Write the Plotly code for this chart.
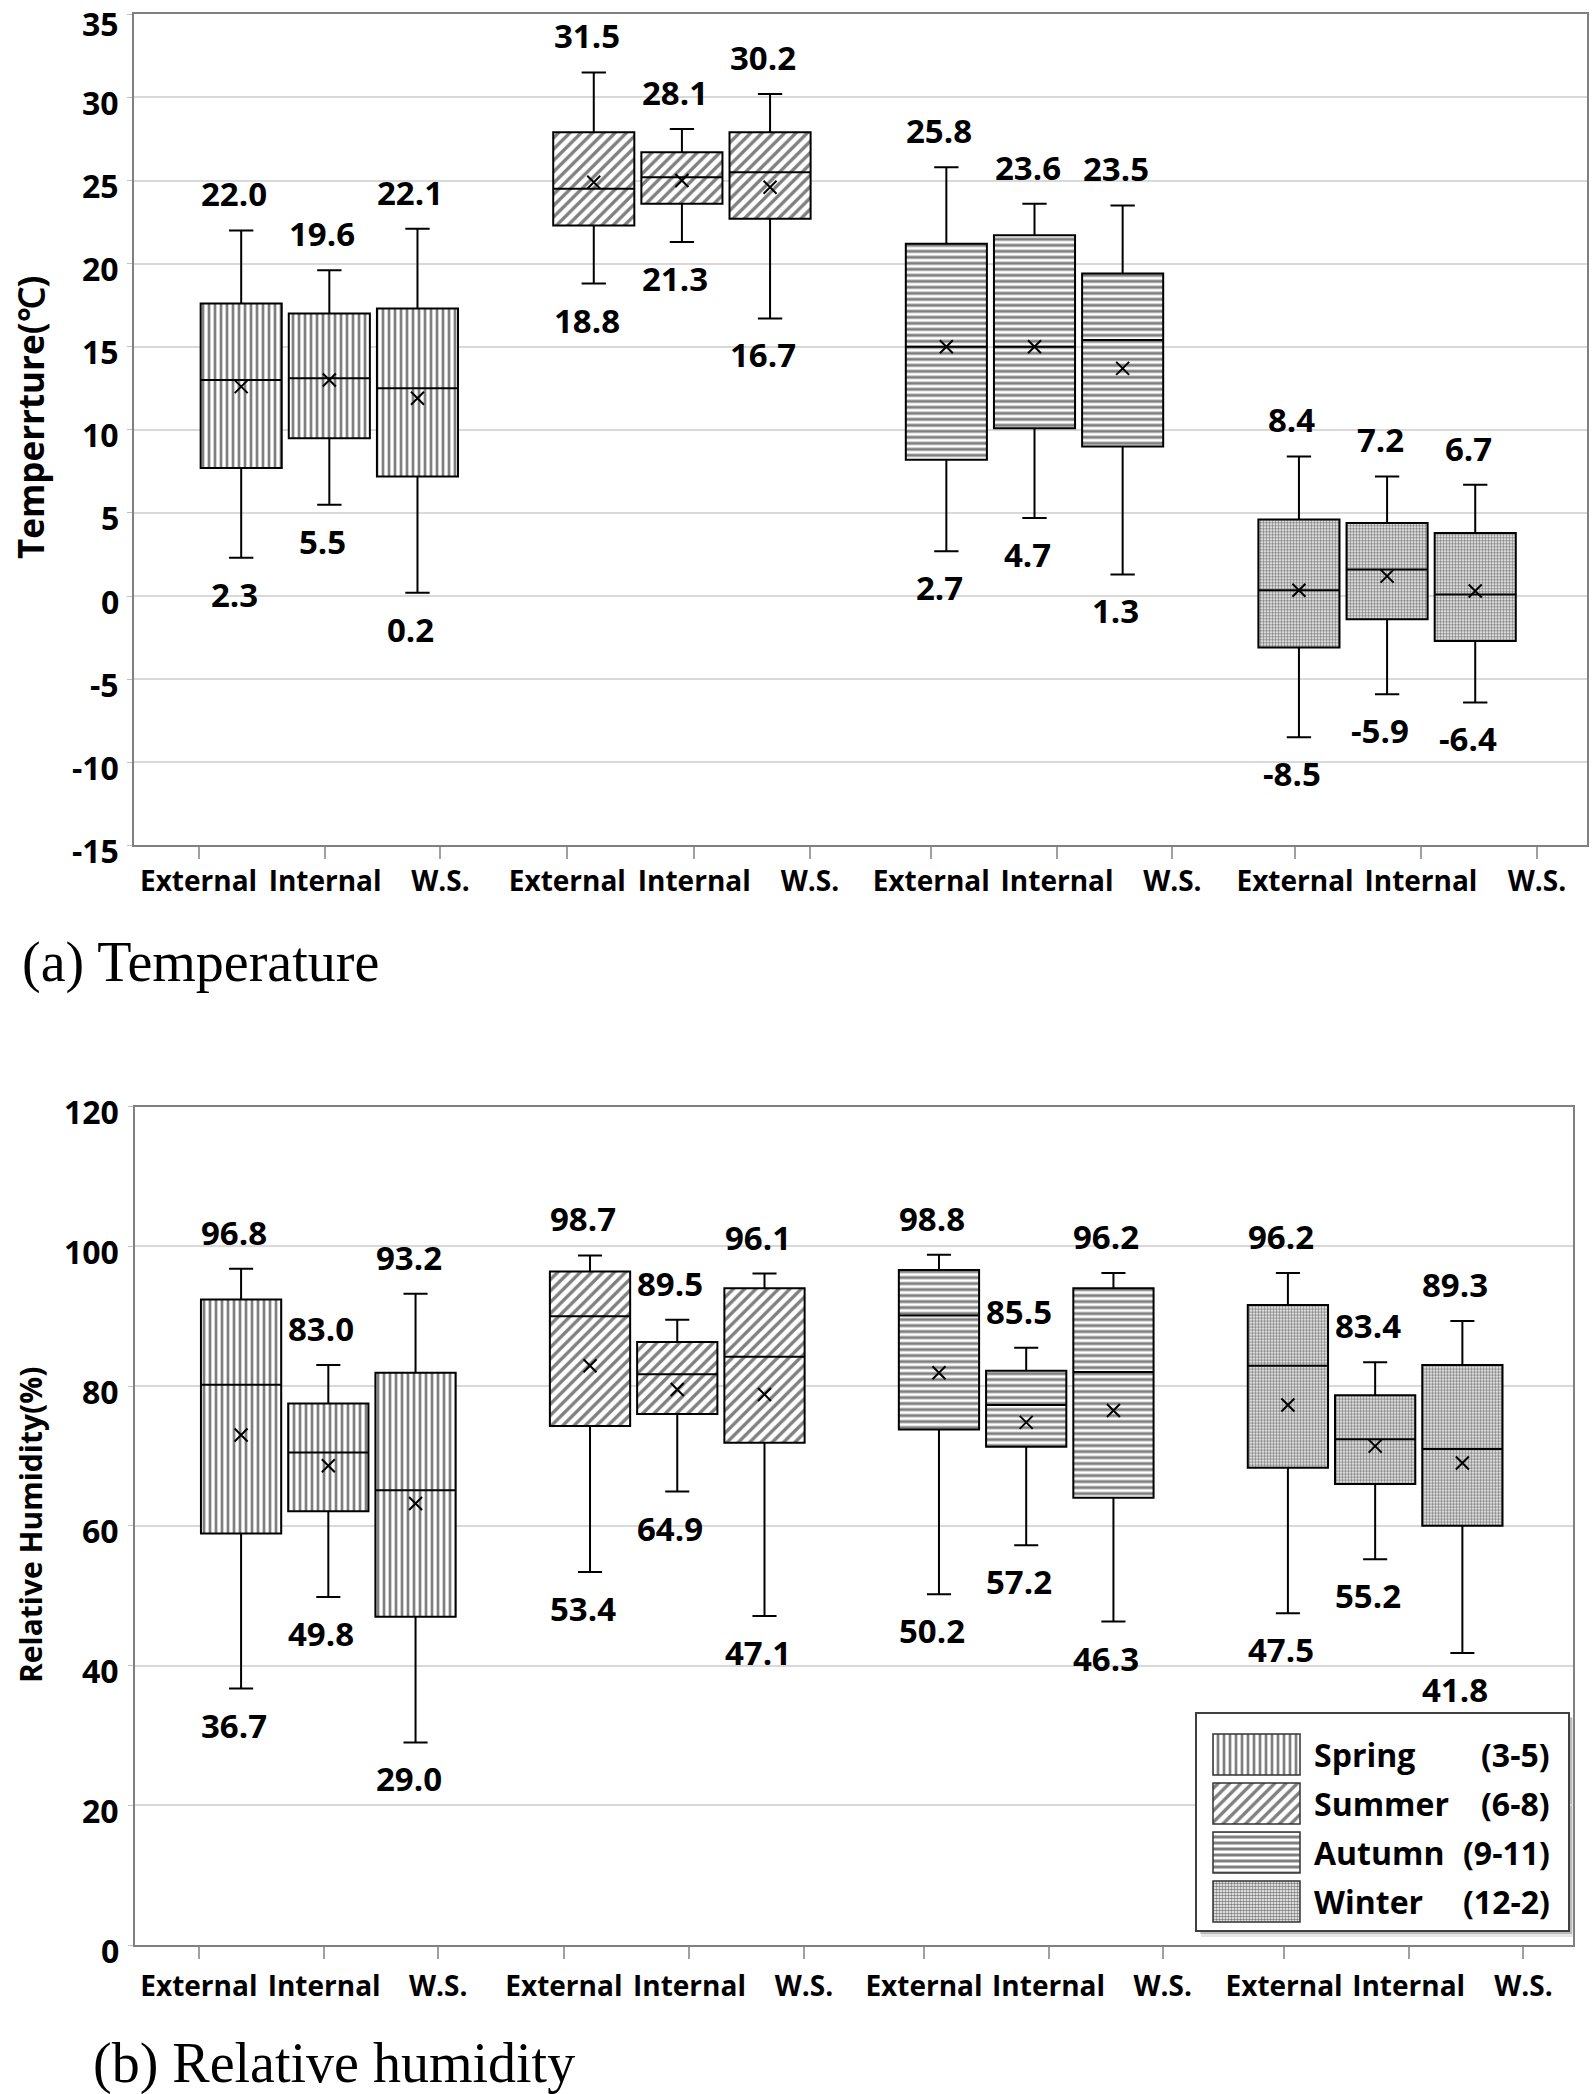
import plotly.graph_objects as go

# ---------------- data ----------------
LOCATIONS = ["External", "Internal", "W.S."]
SEASONS = ["Spring", "Summer", "Autumn", "Winter"]
MONTHS = ["(3-5)", "(6-8)", "(9-11)", "(12-2)"]

# Temperature (°C); order: Spring E/I/W, Summer E/I/W, Autumn E/I/W, Winter E/I/W
T_MAX = [22.0, 19.6, 22.1, 31.5, 28.1, 30.2, 25.8, 23.6, 23.5, 8.4, 7.2, 6.7]
T_Q3 = [17.6, 17.0, 17.3, 27.9, 26.7, 27.9, 21.2, 21.7, 19.4, 4.6, 4.4, 3.8]
T_MED = [13.0, 13.1, 12.5, 24.5, 25.2, 25.5, 15.0, 15.0, 15.4, 0.35, 1.6, 0.1]
T_MEAN = [12.6, 13.0, 11.9, 24.9, 25.0, 24.6, 15.0, 15.0, 13.7, 0.35, 1.2, 0.3]
T_Q1 = [7.7, 9.5, 7.2, 22.3, 23.6, 22.7, 8.2, 10.1, 9.0, -3.1, -1.4, -2.7]
T_MIN = [2.3, 5.5, 0.2, 18.8, 21.3, 16.7, 2.7, 4.7, 1.3, -8.5, -5.9, -6.4]

# Relative humidity (%)
H_MAX = [96.8, 83.0, 93.2, 98.7, 89.5, 96.1, 98.8, 85.5, 96.2, 96.2, 83.4, 89.3]
H_Q3 = [92.4, 77.5, 81.9, 96.4, 86.3, 94.0, 96.6, 82.2, 94.0, 91.6, 78.7, 83.0]
H_MED = [80.2, 70.5, 65.1, 90.0, 81.7, 84.2, 90.1, 77.3, 82.0, 82.9, 72.4, 71.0]
H_MEAN = [73.0, 68.6, 63.2, 82.9, 79.5, 78.8, 81.9, 74.8, 76.5, 77.3, 71.4, 69.0]
H_Q1 = [58.9, 62.1, 47.0, 74.3, 76.0, 71.9, 73.8, 71.3, 64.0, 68.3, 66.0, 60.0]
H_MIN = [36.7, 49.8, 29.0, 53.4, 64.9, 47.1, 50.2, 57.2, 46.3, 47.5, 55.2, 41.8]

T_TICKS = [-15, -10, -5, 0, 5, 10, 15, 20, 25, 30, 35]
H_TICKS = [0, 20, 40, 60, 80, 100, 120]

# ---------------- layout constants ----------------
W, H = 1594, 2094
FONT = "Open Sans"
GROUP_CENTER = [1, 2, 3, 4]
LOC_OFFSET = [-0.25, 0.0, 0.25]
BOX_W = 0.23
X_RANGE = [0.446, 4.567]
TICK_POS = [0.629, 0.988, 1.315, 1.675, 2.035, 2.363,
            2.707, 3.064, 3.391, 3.739, 4.096, 4.425]
PATTERNS = [
    dict(shape="|", size=6, solidity=0.45),
    dict(shape="/", size=8, solidity=0.42),
    dict(shape="-", size=6, solidity=0.5),
    dict(shape=".", size=3, solidity=0.55),
]


def fx(px):
    return px / W


def fy(py):
    return 1 - py / H


fig = go.Figure()
annotations = []
LABEL_FONT = dict(family=FONT, size=33, color="black", weight="bold")
YTICK_FONT = dict(family=FONT, size=32, color="black", weight="bold")


def add_panel(xa, ya, q1, med, q3, lo, hi, mean, yticks, top_shift):
    for si in range(len(SEASONS)):
        sl = slice(3 * si, 3 * si + 3)
        xs = [GROUP_CENTER[si] + o for o in LOC_OFFSET]
        q1s, q3s = q1[sl], q3[sl]
        fig.add_trace(go.Bar(
            x=xs, base=q1s, y=[b - a for a, b in zip(q1s, q3s)], width=BOX_W,
            marker=dict(color="white", line=dict(width=0),
                        pattern=dict(fgcolor="black", bgcolor="white", **PATTERNS[si])),
            xaxis=xa, yaxis=ya, hoverinfo="skip", showlegend=False))
        fig.add_trace(go.Box(
            x=xs, q1=q1s, median=med[sl], q3=q3s, lowerfence=lo[sl], upperfence=hi[sl],
            width=BOX_W, whiskerwidth=0.3, fillcolor="rgba(0,0,0,0)",
            line=dict(color="black", width=2), boxpoints=False,
            xaxis=xa, yaxis=ya, hoverinfo="skip", showlegend=False))
        fig.add_trace(go.Scatter(
            x=xs, y=mean[sl], mode="markers",
            marker=dict(symbol="x-thin", size=13, color="black",
                        line=dict(color="black", width=2)),
            xaxis=xa, yaxis=ya, hoverinfo="skip", showlegend=False))
        for x, h, l in zip(xs, hi[sl], lo[sl]):
            annotations.append(dict(x=x, y=h, xref=xa, yref=ya, text=f"{h:.1f}",
                                    showarrow=False, yanchor="bottom", yshift=12, xshift=-7,
                                    font=LABEL_FONT))
            annotations.append(dict(x=x, y=l, xref=xa, yref=ya, text=f"{l:.1f}",
                                    showarrow=False, yanchor="top", yshift=-12, xshift=-7,
                                    font=LABEL_FONT))
    # y tick labels (sit slightly below their grid lines, as in the original)
    for v in yticks:
        shift = top_shift if v == yticks[-1] else -5
        annotations.append(dict(x=fx(121), y=v, xref="paper", yref=ya, text=str(v),
                                showarrow=False, xanchor="right", yanchor="middle",
                                yshift=shift, font=YTICK_FONT))


add_panel("x", "y", T_Q1, T_MED, T_Q3, T_MIN, T_MAX, T_MEAN, T_TICKS, -9)
add_panel("x2", "y2", H_Q1, H_MED, H_Q3, H_MIN, H_MAX, H_MEAN, H_TICKS, -5)

# ---------------- legend (its own small subplot covering the legend frame) ----------------
LEG_L, LEG_R, LEG_T, LEG_B = 1197, 1568, 1714, 1930      # frame, px
SW_L, SW_R, SW_B, PITCH = 1213, 1300, 1926, 49            # swatches, px
leg_xr = [(LEG_L - SW_L) / (SW_R - SW_L), (LEG_R - SW_L) / (SW_R - SW_L)]
leg_yr = [-0.5 + (SW_B - LEG_B) / PITCH, -0.5 + (SW_B - LEG_T) / PITCH]

fig.add_trace(go.Bar(
    y=SEASONS, x=[1] * len(SEASONS), orientation="h", width=0.84,
    marker=dict(color="white", line=dict(color="#333333", width=1.5),
                pattern=dict(shape=[p["shape"] for p in PATTERNS],
                             size=[p["size"] for p in PATTERNS],
                             solidity=[p["solidity"] for p in PATTERNS],
                             fgcolor="black", bgcolor="white")),
    xaxis="x3", yaxis="y3", hoverinfo="skip", showlegend=False))

for s, m in zip(SEASONS, MONTHS):
    annotations.append(dict(x=fx(1312), y=s, xref="paper", yref="y3", text=s,
                            showarrow=False, xanchor="left", yanchor="middle",
                            font=dict(family=FONT, size=32, color="black", weight="bold")))
    annotations.append(dict(x=fx(1552), y=s, xref="paper", yref="y3", text=m,
                            showarrow=False, xanchor="right", yanchor="middle",
                            font=dict(family=FONT, size=32, color="black", weight="bold")))

shapes = [
    # soft shadow (paper, below subplots)
    dict(type="rect", xref="paper", yref="paper", layer="below",
         x0=fx(LEG_L + 4), x1=fx(LEG_R + 7), y0=fy(LEG_B + 7), y1=fy(LEG_T + 4),
         fillcolor="rgba(0,0,0,0.10)", line=dict(width=0)),
    dict(type="rect", xref="paper", yref="paper", layer="below",
         x0=fx(LEG_L + 3), x1=fx(LEG_R + 4), y0=fy(LEG_B + 4), y1=fy(LEG_T + 3),
         fillcolor="rgba(0,0,0,0.18)", line=dict(width=0)),
    # white fill of the legend subplot (covers grid lines of the lower panel)
    dict(type="rect", xref="x3", yref="y3", layer="below",
         x0=leg_xr[0], x1=leg_xr[1], y0=leg_yr[0], y1=leg_yr[1],
         fillcolor="white", line=dict(width=0)),
]

# ---------------- axis titles and captions ----------------
annotations += [
    dict(x=fx(30), y=fy(418), xref="paper", yref="paper", text="Temperrture(℃)",
         textangle=-90, showarrow=False, xanchor="center", yanchor="middle",
         font=dict(family=FONT, size=35, color="black", weight="bold")),
    dict(x=fx(30), y=fy(1525), xref="paper", yref="paper", text="Relative Humidity(%)",
         textangle=-90, showarrow=False, xanchor="center", yanchor="middle",
         font=dict(family=FONT, size=30, color="black", weight="bold")),
    dict(x=fx(20), y=fy(962), xref="paper", yref="paper", text="(a) Temperature",
         showarrow=False, xanchor="left", yanchor="middle",
         font=dict(family="Liberation Serif", size=56, color="black")),
    dict(x=fx(91), y=fy(2063), xref="paper", yref="paper", text="(b) Relative humidity",
         showarrow=False, xanchor="left", yanchor="middle",
         font=dict(family="Liberation Serif", size=56, color="black")),
]

xaxis_common = dict(
    range=X_RANGE, tickmode="array", tickvals=TICK_POS, ticktext=LOCATIONS * 4,
    tickangle=0, automargin=False,
    ticks="outside", ticklen=12, tickwidth=2, tickcolor="#a0a0a0",
    showline=True, linecolor="#808080", linewidth=2, mirror=True,
    showgrid=False, zeroline=False,
    tickfont=dict(family=FONT, size=28, color="black", weight="bold"),
)
yaxis_common = dict(
    showgrid=True, gridcolor="#d9d9d9", gridwidth=2, zeroline=False, automargin=False,
    showline=True, linecolor="#808080", linewidth=2, mirror=True,
    ticks="outside", ticklen=5, tickcolor="#c0c0c0", showticklabels=False,
)

fig.update_layout(
    width=W, height=H, margin=dict(l=0, r=0, t=0, b=0, autoexpand=False),
    paper_bgcolor="white", plot_bgcolor="white",
    barmode="overlay", boxmode="overlay", showlegend=False,
    xaxis=dict(domain=[fx(134), fx(1587)], anchor="y", ticklabelstandoff=-2, **xaxis_common),
    yaxis=dict(domain=[fy(845.4), fy(14.3)], anchor="x", range=[-15, 35],
               tickmode="array", tickvals=T_TICKS, **yaxis_common),
    xaxis2=dict(domain=[fx(135), fx(1573)], anchor="y2", ticklabelstandoff=3, **xaxis_common),
    yaxis2=dict(domain=[fy(1945), fy(1106.6)], anchor="x2", range=[0, 120],
                tickmode="array", tickvals=H_TICKS, **yaxis_common),
    xaxis3=dict(domain=[fx(LEG_L), fx(LEG_R)], anchor="y3", range=leg_xr,
                showgrid=False, zeroline=False, showticklabels=False, ticks="",
                showline=True, mirror=True, linecolor="#404040", linewidth=2,
                automargin=False, fixedrange=True),
    yaxis3=dict(domain=[fy(LEG_B), fy(LEG_T)], anchor="x3", range=leg_yr,
                type="category", categoryorder="array", categoryarray=SEASONS[::-1],
                showgrid=False, zeroline=False, showticklabels=False, ticks="",
                showline=True, mirror=True, linecolor="#404040", linewidth=2,
                automargin=False, fixedrange=True),
    annotations=annotations,
    shapes=shapes,
)

fig.write_html("out.html", config={"displayModeBar": False},
               post_script="document.body.style.margin='0';document.body.style.overflow='hidden';")
